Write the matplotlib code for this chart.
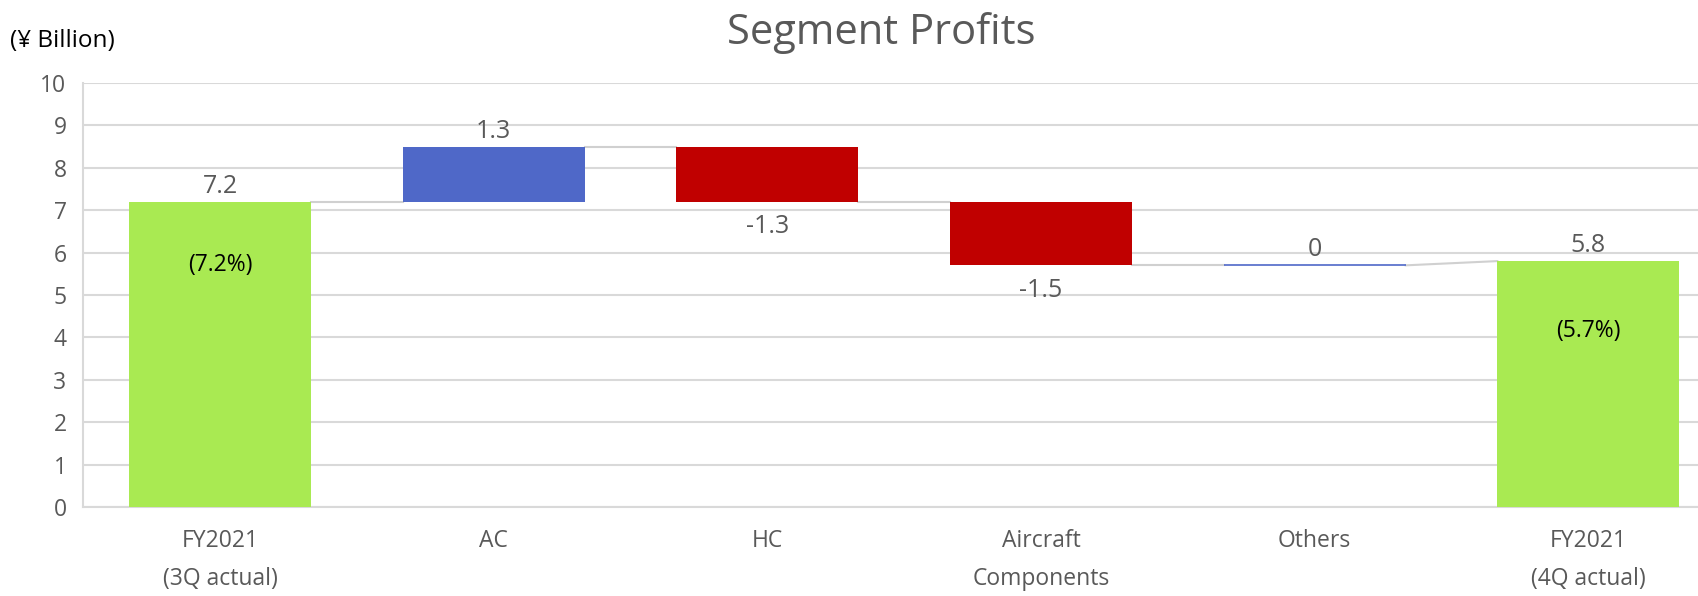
import matplotlib.pyplot as plt
import numpy as np

# data
categories = ["FY2021\n(3Q actual)", "AC", "HC", "Aircraft\nComponents", "Others", "FY2021\n(4Q actual)"]
start_value = 7.2
changes = [1.3, -1.3, -1.5, 0.0]
end_value = 5.8
margin_labels = ["(7.2%)", "(5.7%)"]
margin_label_y = [5.57, 4.0]

plt.rcParams['font.family'] = ['Open Sans', 'DejaVu Sans']

green = '#A9EA52'
blue = '#4F68C8'
red = '#C00000'
grey_txt = '#595959'
grid_c = '#D9D9D9'

# waterfall geometry
bottoms, heights, colors = [0.0], [start_value], [green]
level = start_value
for ch in changes:
    lo = min(level, level + ch)
    bottoms.append(lo)
    heights.append(abs(ch))
    colors.append(blue if ch >= 0 else red)
    level += ch
bottoms.append(0.0)
heights.append(end_value)
colors.append(green)

x = np.arange(len(categories))
width = 0.665

fig = plt.figure(figsize=(16.98, 5.96), dpi=100)
# plot area runs a little past the right edge, as in the reference
ax = fig.add_axes([0.049, 0.1493, 0.967, 0.7114])

bars = ax.bar(x, heights, width, bottom=bottoms, color=colors, zorder=3)
# zero-height bar (Others) shows as a thin line
bars[4].set_edgecolor(blue)
bars[4].set_linewidth(1.2)

# connectors
lvl = start_value
tops = [start_value]
for ch in changes:
    lvl += ch
    tops.append(lvl)
for i in range(len(categories) - 1):
    y0 = tops[i]
    y1 = tops[i] if i < len(categories) - 2 else end_value
    ax.plot([x[i] + width / 2, x[i + 1] - width / 2], [y0, y1], color='#D0D0D0', lw=1.5, zorder=2)

# value labels
vals = [start_value] + changes + [end_value]
for i, v in enumerate(vals):
    txt = f"{v:g}"
    if v >= 0:
        ax.annotate(txt, (x[i], bottoms[i] + heights[i]), xytext=(0, 6.5), textcoords='offset points',
                    ha='center', va='baseline', fontsize=18, color=grey_txt)
    else:
        ax.annotate(txt, (x[i], bottoms[i]), xytext=(0, -22.5), textcoords='offset points',
                    ha='center', va='baseline', fontsize=18, color=grey_txt)

ax.text(x[0], margin_label_y[0], margin_labels[0], ha='center', va='baseline', fontsize=16.5, color='black', zorder=4)
ax.text(x[-1], margin_label_y[1], margin_labels[1], ha='center', va='baseline', fontsize=16.5, color='black', zorder=4)

ax.set_xlim(-0.5, len(categories) - 0.5)
ax.set_ylim(0, 10)
ax.set_yticks(range(0, 11))
ax.grid(axis='y', color=grid_c, lw=1.5, zorder=0)
ax.set_xticks(x)
ax.set_xticklabels(categories, fontsize=16.5, color=grey_txt, linespacing=1.75)
ax.tick_params(axis='y', length=0, pad=12, labelsize=16.5, labelcolor=grey_txt)
ax.tick_params(axis='x', length=0, pad=16)
for s in ['top', 'right']:
    ax.spines[s].set_visible(False)
ax.spines['left'].set_color(grid_c)
ax.spines['bottom'].set_color(grid_c)
ax.spines['left'].set_linewidth(1.5)
ax.spines['bottom'].set_linewidth(1.5)

fig.text(0.519, 0.926, "Segment Profits", ha='center', va='baseline', fontsize=30, color=grey_txt)
fig.text(0.006, 0.921, "(¥ Billion)", ha='left', va='baseline', fontsize=17.5, color='black')

fig.savefig('out.png', dpi=100)
